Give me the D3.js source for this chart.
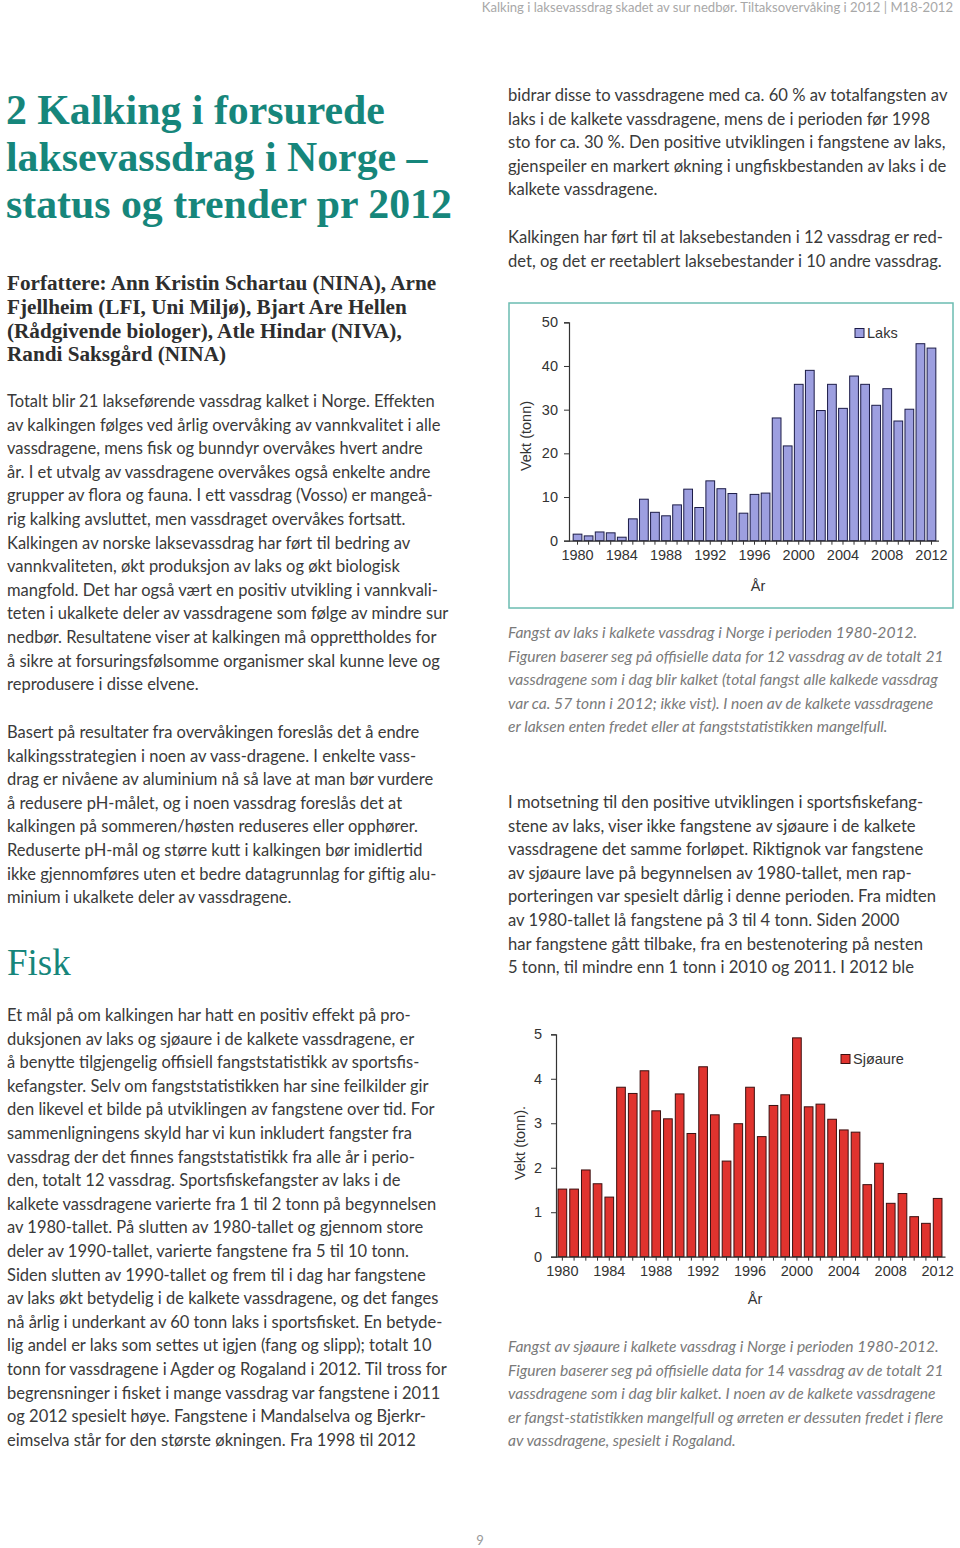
<!DOCTYPE html>
<html><head><meta charset="utf-8">
<script src="https://cdn.jsdelivr.net/npm/d3@7"></script>
<style>
html,body{margin:0;padding:0;background:#fff;}
svg{display:block;}
</style></head>
<body>
<script>
// ---------- DATA ----------
const years = d3.range(1980, 2013);
const laksValues = [1.5,1.1,2.0,1.8,0.8,5.0,9.5,6.5,5.7,8.2,11.8,7.6,13.7,11.9,10.8,6.3,10.6,10.9,28.1,21.7,35.8,39.0,29.8,35.8,30.3,37.7,35.8,31.0,34.8,27.4,30.1,45.1,44.1];
const sjoaureValues = [1.52,1.52,1.95,1.64,1.34,3.81,3.67,4.18,3.28,3.10,3.66,2.77,4.27,3.19,2.15,2.99,3.81,2.70,3.40,3.64,4.92,3.37,3.43,3.09,2.85,2.80,1.62,2.10,1.20,1.42,0.90,0.75,1.31];
const laksTicks = [0,10,20,30,40,50];
const sjoaureTicks = [0,1,2,3,4,5];
const yearLabels = [1980,1984,1988,1992,1996,2000,2004,2008,2012];

// ---------- TEXT ----------
const header = "Kalking i laksevassdrag skadet av sur nedbør. Tiltaksovervåking i 2012 | M18-2012";
const titleLines = ["2 Kalking i forsurede","laksevassdrag i Norge –","status og trender pr 2012"];
const authorLines = ["Forfattere: Ann Kristin Schartau (NINA), Arne","Fjellheim (LFI, Uni Miljø), Bjart Are Hellen","(Rådgivende biologer), Atle Hindar (NIVA),","Randi Saksgård (NINA)"];
const leftP1 = ["Totalt blir 21 lakseførende vassdrag kalket i Norge. Effekten","av kalkingen følges ved årlig overvåking av vannkvalitet i alle","vassdragene, mens fisk og bunndyr overvåkes hvert andre","år. I et utvalg av vassdragene overvåkes også enkelte andre","grupper av flora og fauna. I ett vassdrag (Vosso) er mangeå-","rig kalking avsluttet, men vassdraget overvåkes fortsatt.","Kalkingen av norske laksevassdrag har ført til bedring av","vannkvaliteten, økt produksjon av laks og økt biologisk","mangfold. Det har også vært en positiv utvikling i vannkvali-","teten i ukalkete deler av vassdragene som følge av mindre sur","nedbør. Resultatene viser at kalkingen må opprettholdes for","å sikre at forsuringsfølsomme organismer skal kunne leve og","reprodusere i disse elvene."];
const leftP2 = ["Basert på resultater fra overvåkingen foreslås det å endre","kalkingsstrategien i noen av vass-dragene. I enkelte vass-","drag er nivåene av aluminium nå så lave at man bør vurdere","å redusere pH-målet, og i noen vassdrag foreslås det at","kalkingen på sommeren/høsten reduseres eller opphører.","Reduserte pH-mål og større kutt i kalkingen bør imidlertid","ikke gjennomføres uten et bedre datagrunnlag for giftig alu-","minium i ukalkete deler av vassdragene."];
const leftP3 = ["Et mål på om kalkingen har hatt en positiv effekt på pro-","duksjonen av laks og sjøaure i de kalkete vassdragene, er","å benytte tilgjengelig offisiell fangststatistikk av sportsfis-","kefangster. Selv om fangststatistikken har sine feilkilder gir","den likevel et bilde på utviklingen av fangstene over tid. For","sammenligningens skyld har vi kun inkludert fangster fra","vassdrag der det finnes fangststatistikk fra alle år i perio-","den, totalt 12 vassdrag. Sportsfiskefangster av laks i de","kalkete vassdragene varierte fra 1 til 2 tonn på begynnelsen","av 1980-tallet. På slutten av 1980-tallet og gjennom store","deler av 1990-tallet, varierte fangstene fra 5 til 10 tonn.","Siden slutten av 1990-tallet og frem til i dag har fangstene","av laks økt betydelig i de kalkete vassdragene, og det fanges","nå årlig i underkant av 60 tonn laks i sportsfisket. En betyde-","lig andel er laks som settes ut igjen (fang og slipp); totalt 10","tonn for vassdragene i Agder og Rogaland i 2012. Til tross for","begrensninger i fisket i mange vassdrag var fangstene i 2011","og 2012 spesielt høye. Fangstene i Mandalselva og Bjerkr-","eimselva står for den største økningen. Fra 1998 til 2012"];
const rightP1 = ["bidrar disse to vassdragene med ca. 60 % av totalfangsten av","laks i de kalkete vassdragene, mens de i perioden før 1998","sto for ca. 30 %. Den positive utviklingen i fangstene av laks,","gjenspeiler en markert økning i ungfiskbestanden av laks i de","kalkete vassdragene."];
const rightP2 = ["Kalkingen har ført til at laksebestanden i 12 vassdrag er red-","det, og det er reetablert laksebestander i 10 andre vassdrag."];
const cap1 = ["Fangst av laks i kalkete vassdrag i Norge i perioden 1980-2012.","Figuren baserer seg på offisielle data for 12 vassdrag av de totalt 21","vassdragene som i dag blir kalket (total fangst alle kalkede vassdrag","var ca. 57 tonn i 2012; ikke vist). I noen av de kalkete vassdragene","er laksen enten fredet eller at fangststatistikken mangelfull."];
const rightP3 = ["I motsetning til den positive utviklingen i sportsfiskefang-","stene av laks, viser ikke fangstene av sjøaure i de kalkete","vassdragene det samme forløpet. Riktignok var fangstene","av sjøaure lave på begynnelsen av 1980-tallet, men rap-","porteringen var spesielt dårlig i denne perioden. Fra midten","av 1980-tallet lå fangstene på 3 til 4 tonn. Siden 2000","har fangstene gått tilbake, fra en bestenotering på nesten","5 tonn, til mindre enn 1 tonn i 2010 og 2011. I 2012 ble"];
const cap2 = ["Fangst av sjøaure i kalkete vassdrag i Norge i perioden 1980-2012.","Figuren baserer seg på offisielle data for 14 vassdrag av de totalt 21","vassdragene som i dag blir kalket. I noen av de kalkete vassdragene","er fangst-statistikken mangelfull og ørreten er dessuten fredet i flere","av vassdragene, spesielt i Rogaland."];

// ---------- DRAW ----------
const W = 960, H = 1548;
const svg = d3.select("body").append("svg").attr("width", W).attr("height", H);

const teal = "#16867b";
const bodyFont = "Lato, 'Open Sans', sans-serif";
const serif = "'Liberation Serif', 'DejaVu Serif', serif";
const chartFont = "'Liberation Sans', Arial, sans-serif";

function block(lines, x, y0, lh, opts) {
  const g = svg.append("g");
  g.selectAll("text").data(lines).join("text")
    .attr("x", x).attr("y", (d, i) => y0 + i * lh)
    .attr("font-family", opts.font || bodyFont)
    .attr("font-size", opts.size || 16)
    .attr("font-weight", opts.weight || "normal")
    .attr("font-style", opts.style || "normal")
    .attr("fill", opts.fill || "#3a3a3a")
    .text(d => d);
  return g;
}

// header
svg.append("text").attr("x", 953).attr("y", 12).attr("text-anchor", "end")
  .attr("font-family", bodyFont).attr("font-size", 13.1).attr("fill", "#a8a8a8").text(header);

// title
block(titleLines, 6, 124, 47, {font: serif, size: 41.8, weight: "bold", fill: teal});
block(authorLines, 7, 290, 23.8, {font: serif, size: 21.2, weight: "bold", fill: "#2e2e2e"});

// left column
block(leftP1, 7, 407, 23.6, {size: 16.5});
block(leftP2, 7, 738, 23.6, {size: 16.5});
svg.append("text").attr("x", 7).attr("y", 975).attr("font-family", serif)
  .attr("font-size", 37).attr("fill", teal).text("Fisk");
block(leftP3, 7, 1021, 23.6, {size: 16.5});

// right column
block(rightP1, 508, 101, 23.6, {size: 16.6});
block(rightP2, 508, 243, 23.6, {size: 16.6});
block(cap1, 508, 638, 23.6, {size: 15.6, style: "italic", fill: "#7a7a7a"});
block(rightP3, 508, 808, 23.6, {size: 16.6});
block(cap2, 508, 1352, 23.6, {size: 15.6, style: "italic", fill: "#7a7a7a"});

// page number
svg.append("text").attr("x", 480).attr("y", 1545).attr("text-anchor", "middle")
  .attr("font-family", bodyFont).attr("font-size", 13).attr("fill", "#999").text("9");

// ---------- CHART FUNCTION ----------
function barChart(cfg) {
  const g = svg.append("g");
  const x = d3.scaleBand().domain(years).range(cfg.xRange).paddingInner(cfg.pad).paddingOuter(cfg.pad / 2);
  const y = d3.scaleLinear().domain([0, cfg.max]).range(cfg.yRange);

  // bars
  g.selectAll("rect.bar").data(years.map((yr, i) => ({yr, v: cfg.values[i]}))).join("rect")
    .attr("class", "bar")
    .attr("x", d => x(d.yr)).attr("width", x.bandwidth())
    .attr("y", d => y(d.v)).attr("height", d => y(0) - y(d.v))
    .attr("fill", cfg.fill).attr("stroke", cfg.stroke).attr("stroke-width", 1);

  // y axis
  const ya = g.append("g").attr("transform", `translate(${cfg.xRange[0] - cfg.axisGap},0)`)
    .call(d3.axisLeft(y).tickValues(cfg.ticks).tickSize(5).tickPadding(cfg.tickPad).tickFormat(d3.format("d")));
  ya.select(".domain").attr("stroke", "#333").attr("stroke-width", 1.2);
  ya.selectAll(".tick line").attr("stroke", "#333");
  ya.selectAll(".tick text").attr("font-family", chartFont).attr("font-size", 14.5).attr("fill", "#333");

  // x axis
  const xa = g.append("g").attr("transform", `translate(0,${cfg.yRange[0]})`)
    .call(d3.axisBottom(x).tickSize(4).tickPadding(5).tickFormat(d => yearLabels.includes(d) ? d : ""));
  xa.select(".domain").attr("stroke", "#333").attr("stroke-width", 1.2)
    .attr("d", `M${cfg.xRange[0] - cfg.axisGap},0.5H${cfg.xRange[1] + 2}`);
  xa.selectAll(".tick line").attr("stroke", "#333");
  xa.selectAll(".tick text").attr("font-family", chartFont).attr("font-size", 14.5).attr("fill", "#333");

  // titles
  g.append("text").attr("transform", `translate(${cfg.yTitle[0]},${cfg.yTitle[1]}) rotate(-90)`)
    .attr("text-anchor", "middle").attr("font-family", chartFont).attr("font-size", 14.5).attr("fill", "#333")
    .text(cfg.yLabel);
  g.append("text").attr("x", cfg.xTitle[0]).attr("y", cfg.xTitle[1]).attr("text-anchor", "middle")
    .attr("font-family", chartFont).attr("font-size", 14.5).attr("fill", "#333").text("År");

  // legend
  g.append("rect").attr("x", cfg.leg[0]).attr("y", cfg.leg[1] - 4.5).attr("width", 9).attr("height", 9)
    .attr("fill", cfg.fill).attr("stroke", cfg.stroke);
  g.append("text").attr("x", cfg.leg[0] + 12).attr("y", cfg.leg[1] + 5).attr("font-family", chartFont)
    .attr("font-size", 14.5).attr("fill", "#333").text(cfg.name);
}

// chart 1 frame
svg.append("rect").attr("x", 509).attr("y", 303).attr("width", 444).attr("height", 305)
  .attr("fill", "none").attr("stroke", "#6bbcb1").attr("stroke-width", 1.5);

barChart({values: laksValues, max: 50, ticks: laksTicks, xRange: [572, 937], yRange: [540.7, 322.3],
  pad: 0.21, axisGap: 3, tickPad: 6, fill: "#9d9fe0", stroke: "#1c1c48",
  yLabel: "Vekt (tonn)", yTitle: [531, 436], xTitle: [758, 591], leg: [855, 333], name: "Laks"});

barChart({values: sjoaureValues, max: 5, ticks: sjoaureTicks, xRange: [556.5, 943.5], yRange: [1256.7, 1034.3],
  pad: 0.26, axisGap: 0.5, tickPad: 9, fill: "#e0332e", stroke: "#3c1010",
  yLabel: "Vekt (tonn).", yTitle: [525, 1143], xTitle: [755, 1304], leg: [841, 1059], name: "Sjøaure"});
</script>
</body></html>
